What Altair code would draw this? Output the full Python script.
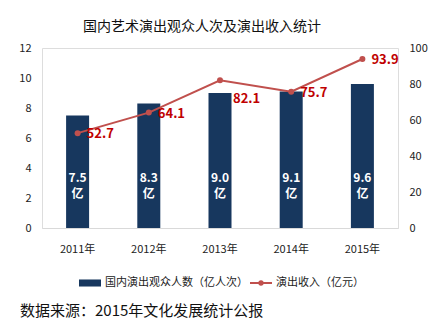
import altair as alt
import pandas as pd

years = ["2011年", "2012年", "2013年", "2014年", "2015年"]
audience = [7.5, 8.3, 9.0, 9.1, 9.6]
revenue = [52.7, 64.1, 82.1, 75.7, 93.9]
bar_labels = ["7.5\n亿", "8.3\n亿", "9.0\n亿", "9.1\n亿", "9.6\n亿"]
rev_labels = ["52.7", "64.1", "82.1", "75.7", "93.9"]

title = "国内艺术演出观众人次及演出收入统计"
bar_name = "国内演出观众人数（亿人次）"
line_name = "演出收入（亿元）"
source = "数据来源：2015年文化发展统计公报"

FONT = "Noto Sans CJK SC"
BAR_COLOR = "#17375E"
LINE_COLOR = "#C0504D"
LABEL_RED = "#C00000"

df = pd.DataFrame({"year": years, "aud": audience, "rev": revenue,
                   "blab": bar_labels, "rlab": rev_labels,
                   "bs": [bar_name] * 5, "ls": [line_name] * 5})

base = alt.Chart(df)
xaxis = alt.Axis(labelAngle=0, ticks=False, domainColor="#D9D9D9",
                 labelPadding=15, labelFontSize=11, labelFont=FONT,
                 labelColor="#222222")
xscale = alt.Scale(paddingInner=0.68, paddingOuter=0.34)
xenc = alt.X("year:N", sort=years, title=None, scale=xscale, axis=xaxis)

laxis = alt.Axis(values=[0, 2, 4, 6, 8, 10, 12], grid=False, domain=False,
                 ticks=False, labelPadding=11, labelFontSize=11,
                 labelOverlap=False, labelFlush=False,
                 labelFont=FONT, labelColor="#222222", orient="left")
lscale = alt.Scale(domain=[0, 12])

bars = base.mark_bar(size=23).encode(
    x=xenc, y=alt.Y("aud:Q", title=None, scale=lscale, axis=laxis),
    color=alt.Color("bs:N",
                    scale=alt.Scale(domain=[bar_name], range=[BAR_COLOR]),
                    legend=alt.Legend(orient="none", legendX=36, legendY=223, title=None,
                                      symbolType="M-1,-0.32H1V0.32H-1Z", symbolSize=484,
                                      labelFontSize=11, labelFont=FONT, labelColor="#222222",
                                      labelOffset=3, padding=0)),
)

bar_text = base.mark_text(color="white", fontWeight="bold", fontSize=12, font=FONT,
                          lineBreak="\n", lineHeight=16, baseline="middle").encode(
    x=xenc, y=alt.Y(datum=3.35, type="quantitative", title=None, scale=lscale, axis=laxis),
    text="blab:N")

src = alt.Chart(pd.DataFrame({"t": [source]})).mark_text(
    align="left", baseline="alphabetic", fontSize=15, font=FONT, color="#111111").encode(
    x=alt.value(-22), y=alt.value(268), text="t:N")

left = alt.layer(bars, bar_text, src)

raxis = alt.Axis(values=[0, 20, 40, 60, 80, 100], grid=False, domain=False,
                 ticks=False, labelPadding=11, labelFontSize=11,
                 labelOverlap=False, labelFlush=False,
                 labelFont=FONT, labelColor="#222222", orient="right")
rscale = alt.Scale(domain=[0, 100])
yright = alt.Y("rev:Q", title=None, scale=rscale, axis=raxis)

line = base.mark_line(strokeWidth=2).encode(
    x=xenc, y=yright,
    stroke=alt.Stroke("ls:N",
                      scale=alt.Scale(domain=[line_name], range=[LINE_COLOR]),
                      legend=alt.Legend(orient="none", legendX=207, legendY=223, title=None,
                                        symbolType="M-1,0H1M-0.15,0A0.15,0.15 0 1,0 0.15,0A0.15,0.15 0 1,0 -0.15,0Z",
                                        symbolSize=484, symbolStrokeWidth=2,
                                        symbolFillColor=LINE_COLOR,
                                        labelFontSize=11, labelFont=FONT, labelColor="#222222",
                                        labelOffset=3, padding=0)),
)
pts = base.mark_circle(size=36, color=LINE_COLOR, opacity=1).encode(x=xenc, y=yright)

rtext = base.transform_filter(alt.datum.rlab != "82.1").mark_text(
    align="left", baseline="middle", dx=9, dy=1, color=LABEL_RED, fontWeight="bold",
    fontSize=13, font=FONT).encode(x=xenc, y=yright, text="rlab:N")
rtext2 = base.transform_filter(alt.datum.rlab == "82.1").mark_text(
    align="left", baseline="middle", dx=13, dy=19, color=LABEL_RED, fontWeight="bold",
    fontSize=13, font=FONT).encode(x=xenc, y=yright, text="rlab:N")

right = alt.layer(line, pts, rtext, rtext2)

chart = alt.layer(left, right).resolve_scale(y="independent", color="independent").properties(
    width=356, height=180,
    title=alt.TitleParams(title, fontSize=14, font=FONT, fontWeight="normal",
                          color="#111111", anchor="middle", dx=-18, offset=8),
    autosize=alt.AutoSizeParams(type="none"),
    padding={"left": 42, "top": 48, "right": 48, "bottom": 97},
).configure_view(stroke=None).configure(background="white")

chart.save("out.html", embed_options={"renderer": "svg", "actions": False})
